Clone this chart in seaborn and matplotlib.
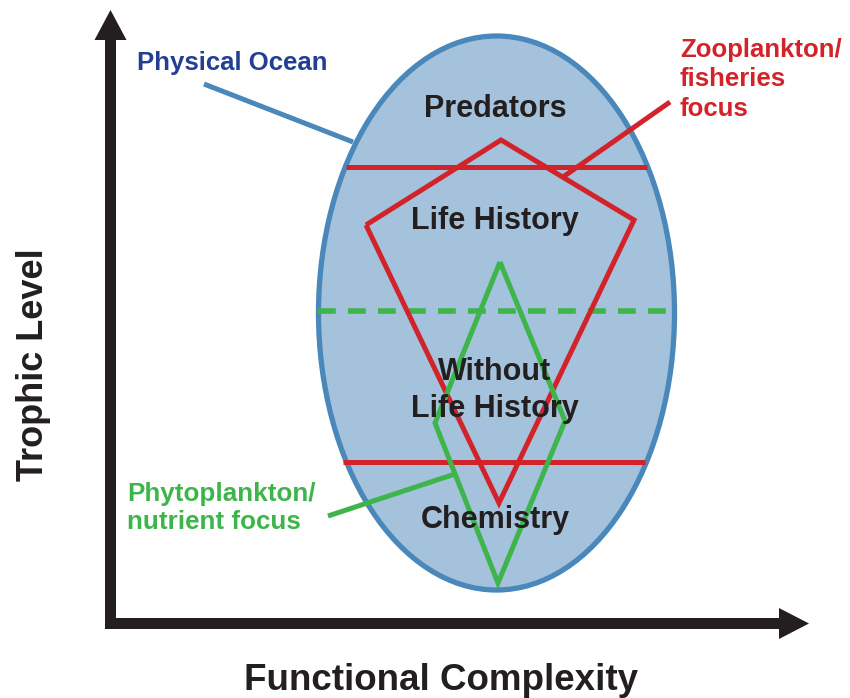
import matplotlib
matplotlib.use("Agg")
import matplotlib.pyplot as plt
import seaborn as sns
import pandas as pd
from matplotlib.patches import Ellipse, FancyArrow

sns.set_theme(style="white")
plt.rcParams['font.family'] = ['Liberation Sans', 'DejaVu Sans']

# ---- diagram data (pixel-space coordinates of the conceptual figure) ----
zoo_kite_x = [366, 501, 634, 499, 366]
zoo_kite_y = [225, 140, 220, 503, 225]
phyto_diamond_x = [500, 565, 498, 435, 500]
phyto_diamond_y = [262, 421, 583, 423, 262]
upper_bound_x = [346, 647]
upper_bound_y = [167, 167]
lower_bound_x = [343, 645]
lower_bound_y = [462, 462]
mid_dash_x = [318, 672]
mid_dash_y = [311, 311]
zoo_leader_x = [670, 563]
zoo_leader_y = [102, 177]
phys_leader_x = [204, 353]
phys_leader_y = [84, 142]
phyto_leader_x = [328, 455]
phyto_leader_y = [516, 474]

ocean_center = (496.5, 313)
ocean_size = (356, 554)

zone_labels = ["Predators", "Life History", "Without", "Life History", "Chemistry"]
zone_label_y = [117, 229, 380, 417, 528]

RED = "#d2232a"
GREEN = "#3db54a"
BLUE_LINE = "#4a87bb"
BLUE_FILL = "#a4c2db"
BLUE_TEXT = "#233f94"
BLACK = "#231f20"

fig = plt.figure(figsize=(8.5, 6.98), dpi=100)
ax = fig.add_axes([0, 0, 1, 1])

# Ocean ellipse
ax.add_patch(Ellipse(ocean_center, ocean_size[0], ocean_size[1],
                     facecolor=BLUE_FILL, edgecolor=BLUE_LINE, lw=3.8, zorder=1))

def seg(xs, ys, color, ls="-", lw=3.6, z=3):
    df = pd.DataFrame({"x": xs, "y": ys})
    sns.lineplot(data=df, x="x", y="y", sort=False, estimator=None, ax=ax,
                 color=color, lw=lw, linestyle=ls, zorder=z,
                 solid_joinstyle="miter", solid_capstyle="butt")

seg(mid_dash_x, mid_dash_y, GREEN, ls=(0, (3.2, 2.2)), lw=4.0, z=2)
seg(upper_bound_x, upper_bound_y, RED)
seg(lower_bound_x, lower_bound_y, RED)
seg(zoo_kite_x, zoo_kite_y, RED)
seg(phyto_diamond_x, phyto_diamond_y, GREEN, z=4)
seg(zoo_leader_x, zoo_leader_y, RED)
seg(phys_leader_x, phys_leader_y, BLUE_LINE, z=0.5)
seg(phyto_leader_x, phyto_leader_y, GREEN)
ax.set_xlim(0, 850)
ax.set_ylim(698, 0)
ax.axis("off")

# Axes arrows
ax.add_patch(FancyArrow(110.5, 629, 0, -619, width=11, head_width=32,
                        head_length=30, length_includes_head=True,
                        color=BLACK, lw=0, zorder=5))
ax.add_patch(FancyArrow(105, 623.5, 704, 0, width=11, head_width=31,
                        head_length=30, length_includes_head=True,
                        color=BLACK, lw=0, zorder=5))

# Zone labels
for lab, yy in zip(zone_labels, zone_label_y):
    ax.text(495, yy, lab, ha="center", va="baseline", fontsize=22,
            fontweight="bold", color=BLACK, zorder=6)

# Annotation labels
ax.text(137, 70, "Physical Ocean", ha="left", va="baseline", fontsize=18.5,
        fontweight="bold", color=BLUE_TEXT)
for txt, yy in zip(["Zooplankton/", "fisheries", "focus"], [57, 86.5, 116]):
    ax.text(680, yy, txt, ha="left", va="baseline", fontsize=18.5,
            fontweight="bold", color=RED)
for txt, yy in zip(["Phytoplankton/", "nutrient focus"], [501, 529]):
    ax.text(127, yy, txt, ha="left", va="baseline", fontsize=18.7,
            fontweight="bold", color=GREEN)

# Axis titles
ax.text(441, 690, "Functional Complexity", ha="center", va="baseline",
        fontsize=26.5, fontweight="bold", color=BLACK)
ax.text(43, 365, "Trophic Level", ha="center", va="baseline", rotation=90,
        rotation_mode="anchor", fontsize=26, fontweight="bold", color=BLACK)

fig.savefig("out.png", dpi=100)
